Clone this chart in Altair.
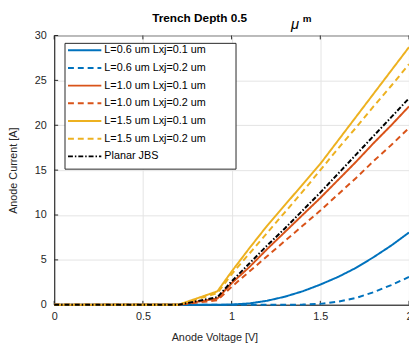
import altair as alt
import pandas as pd

voltage = [0.0, 0.1, 0.2, 0.3, 0.4, 0.5, 0.6, 0.7, 0.92, 1.0, 1.1, 1.2, 1.3, 1.4, 1.5, 1.6, 1.7, 1.8, 1.9, 2.0]

series_names = [
    "L=0.6 um Lxj=0.1 um",
    "L=0.6 um Lxj=0.2 um",
    "L=1.0 um Lxj=0.1 um",
    "L=1.0 um Lxj=0.2 um",
    "L=1.5 um Lxj=0.1 um",
    "L=1.5 um Lxj=0.2 um",
    "Planar JBS",
]

l06_x01 = [0, 0, 0, 0, 0, 0, 0, 0, 0, 0.03, 0.15, 0.45, 0.9, 1.5, 2.25, 3.1, 4.1, 5.3, 6.6, 8.05]
l06_x02 = [0, 0, 0, 0, 0, 0, 0, 0, 0, 0, 0, 0, 0, 0.02, 0.1, 0.35, 0.75, 1.4, 2.2, 3.1]
l10_x01 = [0, 0, 0, 0, 0, 0, 0, 0, 0.7, 2.4, 4.2, 6.2, 8.1, 10.0, 11.9, 13.9, 15.9, 18.0, 20.0, 22.1]
l10_x02 = [0, 0, 0, 0, 0, 0, 0, 0, 0.5, 2.0, 3.7, 5.4, 7.1, 8.8, 10.5, 12.3, 14.1, 16.0, 17.8, 19.7]
l15_x01 = [0, 0, 0, 0, 0, 0, 0, 0, 1.5, 3.7, 6.3, 8.8, 11.1, 13.4, 15.7, 18.3, 20.9, 23.5, 26.1, 28.7]
l15_x02 = [0, 0, 0, 0, 0, 0, 0, 0, 1.3, 3.4, 5.7, 8.0, 10.3, 12.6, 15.0, 17.4, 19.7, 22.1, 24.4, 26.8]
planar = [0, 0, 0, 0, 0, 0, 0, 0, 0.85, 2.6, 4.6, 6.6, 8.5, 10.5, 12.5, 14.6, 16.7, 18.8, 20.9, 23.0]

all_series = [l06_x01, l06_x02, l10_x01, l10_x02, l15_x01, l15_x02, planar]

colors = ["#0072BD", "#0072BD", "#D95319", "#D95319", "#EDB120", "#EDB120", "#000000"]
dashes = [[1, 0], [6, 4], [1, 0], [6, 4], [1, 0], [6, 4], [5, 2, 1.5, 2]]

x_ticks = [0, 0.5, 1, 1.5, 2]
y_ticks = [0, 5, 10, 15, 20, 25, 30]

title_main = "Trench Depth 0.5"
title_mu = "\u03bc"
title_m = "m"

rows = []
for name, vals in zip(series_names, all_series):
    for v, i in zip(voltage, vals):
        rows.append({"V": v, "I": i, "series": name})
df = pd.DataFrame(rows)

FONT = "Liberation Sans"
W, H = 361, 274

leg = alt.Legend(
    title=None,
    orient="none",
    legendX=13,
    legendY=9,
    symbolType="stroke",
    symbolSize=1150,
    symbolStrokeWidth=2,
    clipHeight=12,
    rowPadding=6,
    labelOffset=2,
    labelFontSize=11,
    labelFont=FONT,
    labelColor="#000000",
    padding=0,
    labelLimit=300,
)

lines = alt.Chart(df).mark_line(strokeWidth=2).encode(
    x=alt.X(
        "V:Q",
        scale=alt.Scale(domain=[0, 2], nice=False),
        axis=alt.Axis(
            values=x_ticks, format="~g", title="Anode Voltage [V]",
            titleX=163, titleY=27, titleBaseline="top", labelPadding=6,
            labelFlush=False,
        ),
    ),
    y=alt.Y(
        "I:Q",
        scale=alt.Scale(domain=[0, 30], nice=False),
        axis=alt.Axis(
            values=y_ticks, title="Anode Current [A]",
            titleX=-41, titleY=H / 2, titleBaseline="middle", labelPadding=8,
            labelFlush=False,
        ),
    ),
    color=alt.Color("series:N", scale=alt.Scale(domain=series_names, range=colors), legend=leg),
    strokeDash=alt.StrokeDash("series:N", scale=alt.Scale(domain=series_names, range=dashes), legend=leg),
)

legend_box = alt.Chart(pd.DataFrame({"k": [0]})).mark_rect(
    fill="white", stroke="#262626", strokeWidth=1
).encode(x=alt.value(11), x2=alt.value(185), y=alt.value(8), y2=alt.value(136))

xt = pd.DataFrame({"t": x_ticks})
yt = pd.DataFrame({"t": y_ticks})
tick_color = "#262626"
xticks_bottom = alt.Chart(xt).mark_rule(color=tick_color).encode(
    x="t:Q", y=alt.value(H), y2=alt.value(H - 4))
xticks_top = alt.Chart(xt).mark_rule(color=tick_color).encode(
    x="t:Q", y=alt.value(0), y2=alt.value(4))
yticks_left = alt.Chart(yt).mark_rule(color=tick_color).encode(
    y="t:Q", x=alt.value(0), x2=alt.value(4))

t_main = alt.Chart(pd.DataFrame({"s": [title_main]})).mark_text(
    font=FONT, fontSize=12, fontWeight="bold", align="center", baseline="alphabetic", color="#000000"
).encode(text="s:N", x=alt.value(148), y=alt.value(-14))
t_mu = alt.Chart(pd.DataFrame({"s": [title_mu]})).mark_text(
    font=FONT, fontSize=15, fontStyle="italic", align="left", baseline="alphabetic", color="#000000"
).encode(text="s:N", x=alt.value(241), y=alt.value(-7))
t_m = alt.Chart(pd.DataFrame({"s": [title_m]})).mark_text(
    font=FONT, fontSize=10, fontWeight="bold", align="left", baseline="alphabetic", color="#000000"
).encode(text="s:N", x=alt.value(253), y=alt.value(-14))

chart = alt.layer(
    legend_box, xticks_bottom, xticks_top, yticks_left, lines, t_main, t_mu, t_m
).properties(
    width=W,
    height=H,
    autosize=alt.AutoSizeParams(type="none"),
    padding={"left": 47, "top": 25, "right": 0, "bottom": 41},
).configure_view(
    stroke="#262626", strokeWidth=1
).configure_axis(
    domainColor="#262626",
    ticks=False,
    labelColor="#262626",
    labelFont=FONT,
    labelFontSize=11,
    titleFont=FONT,
    titleFontSize=11,
    titleFontWeight="normal",
    titleColor="#262626",
    gridColor="#e3e3e3",
    gridWidth=1,
)

chart.save("out.html", embed_options={"renderer": "svg", "actions": False})
